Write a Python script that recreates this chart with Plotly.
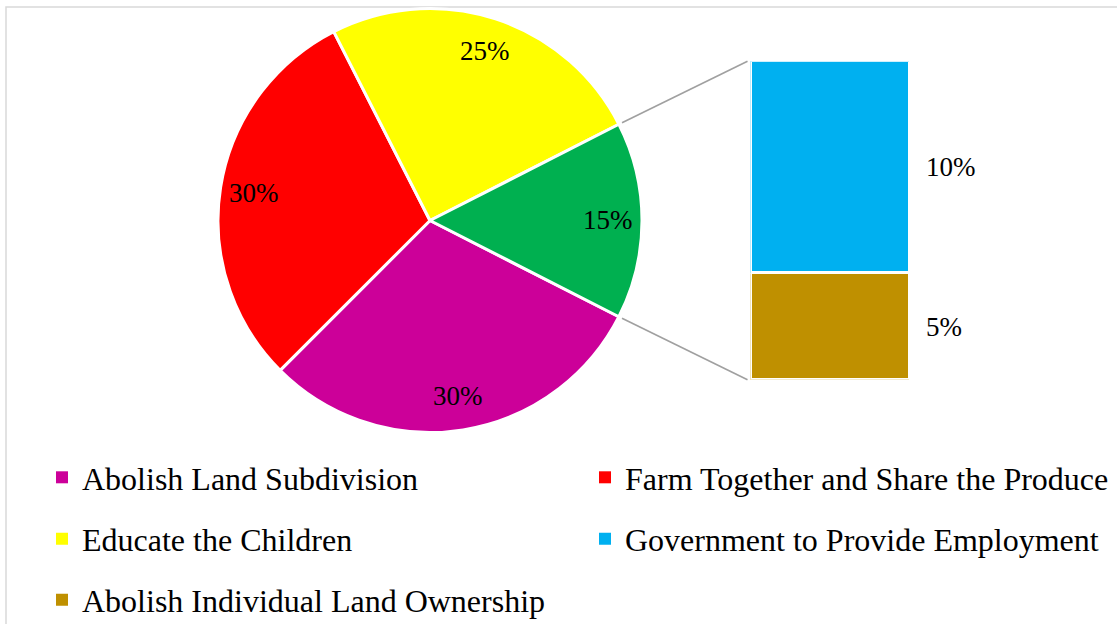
import math
import plotly.graph_objects as go

W, H = 1117, 624

# ---- data ----
pie_labels = ["Abolish Land Subdivision", "Farm Together and Share the Produce",
              "Educate the Children", "Other"]
pie_values = [30, 30, 25, 15]
pie_colors = ["#CC0099", "#FF0000", "#FFFF00", "#00B050"]

bar_labels = ["Abolish Individual Land Ownership", "Government to Provide Employment"]  # bottom -> top
bar_values = [5, 10]
bar_colors = ["#BF9000", "#00B0F0"]

legend_labels = ["Abolish Land Subdivision", "Farm Together and Share the Produce",
                 "Educate the Children", "Government to Provide Employment",
                 "Abolish Individual Land Ownership"]
legend_colors = ["#CC0099", "#FF0000", "#FFFF00", "#00B0F0", "#BF9000"]

# ---- layout geometry (pixels) ----
PIE_CX, PIE_CY, PIE_R = 430, 220.5, 212
LABEL_R = 0.84 * PIE_R
BAR_L, BAR_R, BAR_T, BAR_B = 750.5, 909.5, 61.2, 379.8
LEG_POS = [(42, 477.5), (585, 477.5), (42, 539), (585, 539), (42, 600)]
FONT = "Liberation Serif, Times New Roman, serif"


def px(x):
    return x / W


def py(y):
    return 1 - y / H


total = sum(pie_values)
half_other = 180.0 * pie_values[-1] / total  # half angle of the broken-out slice
rotation = 90 + half_other

fig = go.Figure()

fig.add_trace(go.Pie(
    labels=pie_labels, values=pie_values, sort=False, direction="clockwise",
    rotation=rotation,
    marker=dict(colors=pie_colors, line=dict(color="white", width=3)),
    textinfo="none",
    domain=dict(x=[px(PIE_CX - PIE_R), px(PIE_CX + PIE_R)],
                y=[py(PIE_CY + PIE_R), py(PIE_CY - PIE_R)]),
    showlegend=False, hoverinfo="label+percent",
))

# pie percentage labels, placed along each slice's middle angle
start_cw = rotation  # clockwise-from-top angle of slice start
for val in pie_values:
    span = 360.0 * val / total
    mid = math.radians(start_cw + span / 2)
    lx = PIE_CX + LABEL_R * math.sin(mid)
    ly = PIE_CY - LABEL_R * math.cos(mid)
    fig.add_annotation(x=px(lx), y=py(ly), xref="paper", yref="paper",
                       text=f"{round(100 * val / total)}%", showarrow=False,
                       xanchor="center", yanchor="middle",
                       font=dict(family=FONT, size=27, color="black"))
    start_cw += span

for lab, val, col in zip(bar_labels, bar_values, bar_colors):
    fig.add_trace(go.Bar(
        x=[0], y=[val], name=lab, marker=dict(color=col, line=dict(color="white", width=3)),
        showlegend=False, xaxis="x", yaxis="y",
    ))

# bar value labels
cum = 0
for val in bar_values:
    fig.add_annotation(x=0.5, y=cum + val / 2, xref="x", yref="y", text=f"{val}%",
                       showarrow=False, xanchor="left", yanchor="middle", xshift=14,
                       font=dict(family=FONT, size=27, color="black"))
    cum += val

# legend entries (one legend per entry for exact placement)
for i, (lab, col) in enumerate(zip(legend_labels, legend_colors)):
    lname = "legend" if i == 0 else f"legend{i + 1}"
    fig.add_trace(go.Scatter(
        x=[None], y=[None], mode="markers", name=lab, legend=lname,
        marker=dict(symbol="square", size=12, color=col, line=dict(width=0)),
        showlegend=True, hoverinfo="skip",
    ))
    lx, ly = LEG_POS[i]
    fig.update_layout({lname: dict(
        x=px(lx), y=py(ly), xanchor="left", yanchor="middle",
        font=dict(family=FONT, size=32, color="black"),
        bgcolor="rgba(0,0,0,0)", borderwidth=0, itemclick=False, itemdoubleclick=False,
    )})

# connector lines
a = math.radians(half_other)
rr = PIE_R + 3.5
x0 = PIE_CX + rr * math.cos(a)
for sgn, yend in [(1, BAR_T), (-1, BAR_B)]:
    y0 = PIE_CY - sgn * rr * math.sin(a)
    fig.add_shape(type="line", xref="paper", yref="paper",
                  x0=px(x0), y0=py(y0), x1=px(BAR_L - 3), y1=py(yend),
                  line=dict(color="#A0A0A0", width=1.6))

# outer chart border
fig.add_shape(type="rect", xref="paper", yref="paper",
              x0=px(6), y0=-0.05, x1=1.05, y1=py(7),
              line=dict(color="#D9D9D9", width=1.5), fillcolor="rgba(0,0,0,0)", layer="below")

fig.update_layout(
    width=W, height=H, margin=dict(l=0, r=0, t=0, b=0, autoexpand=False),
    paper_bgcolor="white", plot_bgcolor="rgba(0,0,0,0)",
    barmode="stack", bargap=0,
    xaxis=dict(domain=[px(BAR_L), px(BAR_R)], range=[-0.5, 0.5], visible=False, fixedrange=True),
    yaxis=dict(domain=[py(BAR_B), py(BAR_T)], range=[0, sum(bar_values)], visible=False, fixedrange=True),
    font=dict(family=FONT),
)

fig.write_html("out.html", config={"displayModeBar": False},
               post_script="document.body.style.margin='0';")
